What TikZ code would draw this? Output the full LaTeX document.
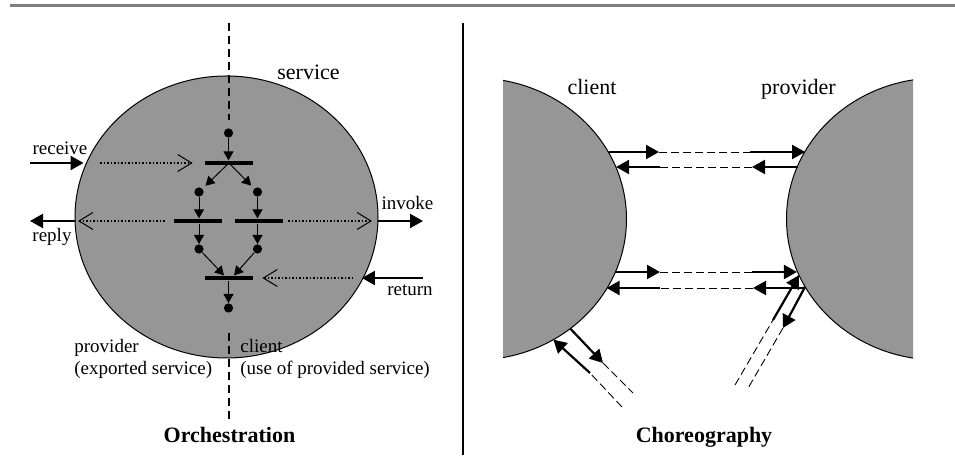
\documentclass[tikz,border=0pt]{standalone}
\usepackage{fontspec}
\setmainfont{Liberation Serif}
\usetikzlibrary{
	positioning			% relative placement
	, arrows.meta		% Triangle and Straight Barb tips
	, shapes.geometric	% ellipse nodes
}
\definecolor{shadegray}{RGB}{150,150,150}
\definecolor{rulegray}{RGB}{128,128,128}

\begin{document}
\begin{tikzpicture}[
		x=0.5pt, y=-0.5pt
		, sphere/.style={ellipse, draw, line width=0.5pt, fill=shadegray, minimum width=151.5pt, minimum height=141pt, inner sep=0pt, outer sep=0pt}
		, bar/.style={rectangle, fill=black, minimum width=24pt, minimum height=2.2pt, inner sep=0pt}
		, token/.style={circle, fill=black, minimum size=4.6pt, inner sep=0pt}
		, flow/.style={-{Triangle[length=4.5pt,width=5pt]}, line width=0.5pt}
		, message/.style={-{Triangle[length=6.5pt,width=7pt]}, line width=1.1pt}
		, internal/.style={-{Straight Barb[length=7pt,width=8.5pt,line width=0.5pt]}, line width=0.75pt, dash pattern=on 0.75pt off 1pt}
		, channel/.style={line width=0.45pt, dash pattern=on 4pt off 2pt}
		, boundary/.style={line width=1pt, dash pattern=on 4pt off 2.5pt}
		, small/.style={inner sep=0pt, font=\fontsize{9.5}{11.25}\selectfont}
		, big/.style={inner sep=0pt, font=\fontsize{11}{13}\selectfont}
		, title/.style={inner sep=0pt, font=\fontsize{11}{13}\selectfont\bfseries}
	]
	\useasboundingbox (0,0) rectangle (955,469);

	% Draw the top rule and the separator
	\draw[rulegray, line width=1.2pt] (10,5.5) -- (955,5.5);
	\draw[line width=0.9pt] (463,23) -- (463,455);

	% Draw the orchestrated service
	\node[sphere] (orch) at (226.5,217) {};
	\node[big, anchor=base] (servicelbl) at (308.5,80) {service};

	% Draw the tokens and bars of the process
	\node[token] (start) at (228.5,133) {};
	\node[bar] (fork) at (229,163) {};
	\node[token] (left1) at (199,192) {};
	\node[token] (right1) at (257.5,192) {};
	\node[bar] (replybar) at (198,221) {};
	\node[bar] (invokebar) at (259,221) {};
	\node[token] (left2) at (199,249) {};
	\node[token] (right2) at (257.5,249) {};
	\node[bar] (join) at (229,278) {};
	\node[token] (finish) at (228.5,308) {};

	% Draw the control flow between them
	\draw[flow] (start) -- (start |- fork.north);
	\draw[flow, shorten >=2pt] (fork.center) -- (left1);
	\draw[flow, shorten >=2pt] (fork.center) -- (right1);
	\draw[flow] (left1) -- (left1 |- replybar.north);
	\draw[flow] (right1) -- (right1 |- invokebar.north);
	\draw[flow] (left1 |- replybar.south) -- (left2);
	\draw[flow] (right1 |- invokebar.south) -- (right2);
	\draw[flow] (left2) -- ([xshift=-2.5pt]join.north);
	\draw[flow] (right2) -- ([xshift=2.5pt]join.north);
	\draw[flow] (join.south -| finish) -- (finish);

	% Draw the dashed line between provider and client side
	\coordinate (axistop) at (228.5,23);
	\coordinate (axisbot) at (228.5,420);
	\draw[boundary, shorten >=4pt] (axistop) -- (start);
	\draw[boundary, shorten <=10pt] (finish) -- (axisbot);

	% Draw the internal links to the bars
	\coordinate (rcvin) at (100,163);
	\coordinate (retin) at (353,278);
	\draw[internal, shorten >=6pt] (rcvin) -- (fork.west);
	\draw[internal, shorten <=4.5pt, shorten >=1.5pt] (replybar.west) -- (replybar.west -| orch.west);
	\draw[internal, shorten <=2.5pt, shorten >=3pt] (invokebar.east) -- (invokebar.east -| orch.east);
	\draw[internal, shorten >=4.5pt] (retin) -- (join.east);

	% Draw the messages crossing the service border
	\coordinate (rcvout) at (30,163);
	\coordinate (rplout) at (30,221);
	\coordinate (invout) at (423,221);
	\coordinate (retout) at (423,278);
	\draw[message, shorten >=2pt] (rcvout) -- (rcvout -| orch.158.9);
	\draw[message] (rplout -| orch.181.5) -- (rplout);
	\draw[message] (invout -| orch.358.5) -- (invout);
	\draw[message] (retout) -- (retout -| orch.335.9);

	\node[small, anchor=base] (receivelbl) at (60,155) {receive};
	\node[small, anchor=base] (replylbl) at (52,242) {reply};
	\node[small, anchor=base] (invokelbl) at (407.5,210) {invoke};
	\node[small, anchor=base] (returnlbl) at (410,296) {return};
	\node[small, anchor=base west, align=left] (providerlbl) at (74,375) {provider\\(exported service)};
	\node[small, anchor=base west, align=left] (clientlbl) at (240,375) {client\\(use of provided service)};
	\node[title, anchor=base] (orchlbl) at (229.5,443) {Orchestration};

	% Draw the two partners of the choreography
	\begin{scope}
		\clip (503,0) rectangle (913,469);
		\node[sphere] (client) at (475,219) {};
		\node[sphere] (provider) at (938,219) {};
	\end{scope}
	\node[big, anchor=base] (clientname) at (592,95) {client};
	\node[big, anchor=base] (providername) at (798.5,95) {provider};

	% Loop through the exchanged messages
	\foreach \src/\sa/\dst/\da/\xa/\xb/\y in {
		client/26.7/provider/153.3/659/750/152,
		provider/159.7/client/20.3/752/660/167,
		client/339.3/provider/200.7/660/752/272,
		provider/207.6/client/332.4/753/660/288} {
		\path (\xa,\y) coordinate (gapa) (\xb,\y) coordinate (gapb);
		\draw[message] (gapa -| \src.\sa) -- (gapa);
		\draw[channel] (gapa) -- (gapb);
		\draw[message] (gapb) -- (gapb -| \dst.\da);
	};

	% Draw the messages to other partners
	\coordinate (cout) at (603,363);
	\coordinate (coutend) at (633,393);
	\coordinate (cinstart) at (622,407);
	\coordinate (cin) at (590,373);
	\draw[message] (client.311.2) -- (cout);
	\draw[channel] (cout) -- (coutend);
	\draw[channel] (cinstart) -- (cin);
	\draw[message] (cin) -- (client.303.9);

	\coordinate (pinstart) at (735,385);
	\coordinate (pin) at (773,320);
	\coordinate (pout) at (783,328);
	\coordinate (poutend) at (747,390);
	\draw[channel] (pinstart) -- (pin);
	\draw[message] (pin) -- (provider.202.9);
	\draw[message] (provider.207.6) -- (pout);
	\draw[channel] (pout) -- (poutend);

	\node[title, anchor=base] (choreolbl) at (704,443) {Choreography};
\end{tikzpicture}
\end{document}
